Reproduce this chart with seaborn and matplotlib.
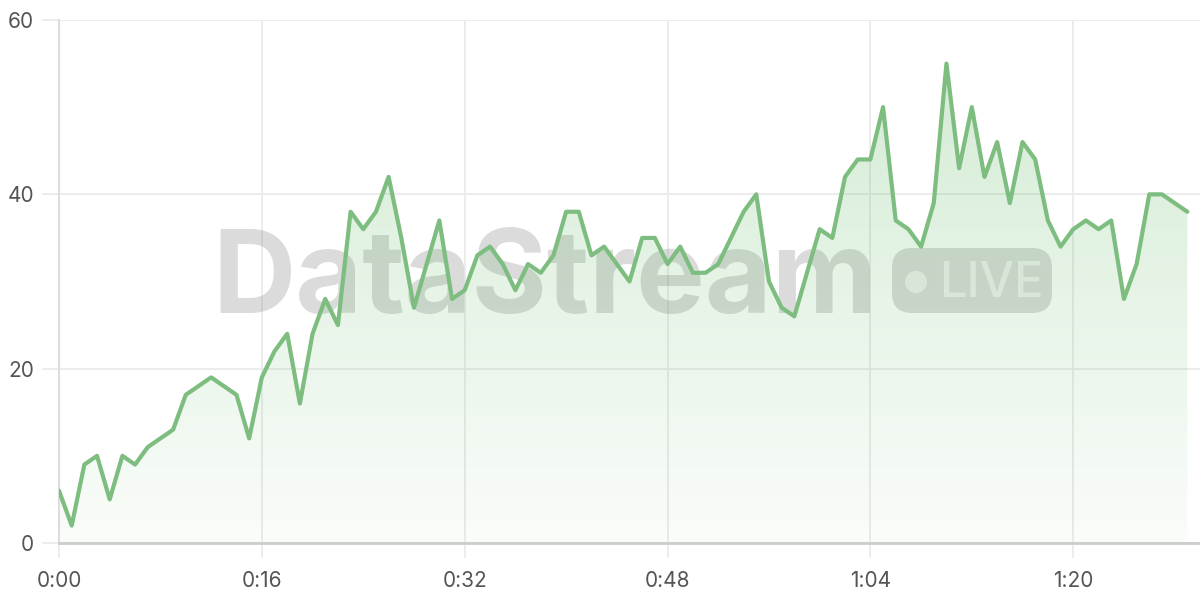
import numpy as np
import pandas as pd
import matplotlib
matplotlib.use("Agg")
import matplotlib.pyplot as plt
import seaborn as sns
from matplotlib.patches import FancyBboxPatch, Circle
from matplotlib.transforms import IdentityTransform
from matplotlib.colors import to_rgb

# values, one per second
seconds = list(range(90))
values = [6, 2, 9, 10, 5, 10, 9, 11, 12, 13,
          17, 18, 19, 18, 17, 12, 19, 22, 24, 16,
          24, 28, 25, 38, 36, 38, 42, 35, 27, 32,
          37, 28, 29, 33, 34, 32, 29, 32, 31, 33,
          38, 38, 33, 34, 32, 30, 35, 35, 32, 34,
          31, 31, 32, 35, 38, 40, 30, 27, 26, 31,
          36, 35, 42, 44, 44, 50, 37, 36, 34, 39,
          55, 43, 50, 42, 46, 39, 46, 44, 37, 34,
          36, 37, 36, 37, 28, 32, 40, 40, 39, 38]
x_ticks = [0, 16, 32, 48, 64, 80]
x_tick_labels = ["0:00", "0:16", "0:32", "0:48", "1:04", "1:20"]
y_ticks = [0, 20, 40, 60]

df = pd.DataFrame({"t": seconds, "v": values})

sns.set_theme(style="white")
plt.rcParams["font.family"] = ["Inter", "DejaVu Sans"]

line_color = "#7dbd7f"
fill_rgb = to_rgb("#4caf50")

fig = plt.figure(figsize=(12, 6), dpi=100)
ax = fig.add_axes([59 / 1200, 57 / 600, 1141 / 1200, 523 / 600])

# watermark, drawn behind the data
ax.text(212 / 1200, 287 / 600, "DataStream", transform=fig.transFigure,
        fontsize=83, fontweight="bold", color="#888888", alpha=0.3,
        ha="left", va="baseline", zorder=0.6)
box = FancyBboxPatch((892, 287), 160, 65, boxstyle="round,pad=0,rounding_size=20",
                     transform=IdentityTransform(), facecolor="#888888",
                     edgecolor="none", alpha=0.3, zorder=0.6)
ax.add_artist(box)
ax.add_artist(Circle((916, 318), 11, transform=IdentityTransform(),
                     facecolor="white", edgecolor="none", alpha=0.6, zorder=0.7))
ax.text(939 / 1200, 303 / 600, "LIVE", transform=fig.transFigure,
        fontsize=35, fontweight="medium", color="white", alpha=0.6,
        ha="left", va="baseline", zorder=0.7)

# gradient fill under the line
poly = ax.fill_between(df["t"], df["v"], 0, color="none")
grad = np.zeros((256, 1, 4))
grad[:, 0, 0:3] = fill_rgb
grad[:, 0, 3] = np.linspace(0.03, 0.26, 256)
im = ax.imshow(grad, extent=[0, 89, 0, 60], aspect="auto", origin="lower", zorder=1)
im.set_clip_path(poly.get_paths()[0], transform=ax.transData)

sns.lineplot(data=df, x="t", y="v", ax=ax, color=line_color, linewidth=3, zorder=3)

ax.set_xlim(0, 90)
ax.set_ylim(0, 60)
ax.set_xticks(x_ticks)
ax.set_xticklabels(x_tick_labels)
ax.set_yticks(y_ticks)
ax.set_xlabel("")
ax.set_ylabel("")

ax.grid(True, color="#ebebeb", linewidth=1.3, zorder=0.5)
ax.set_axisbelow(True)
for s in ["top", "right"]:
    ax.spines[s].set_visible(False)
ax.spines["left"].set_color("#dddddd")
ax.spines["left"].set_linewidth(1.5)
ax.spines["bottom"].set_color("#cccccc")
ax.spines["bottom"].set_linewidth(2)

ax.tick_params(axis="x", length=11, width=1.3, color="#ebebeb", pad=9,
               labelsize=15, labelcolor="#555555", bottom=True)
ax.tick_params(axis="y", length=12, width=1.3, color="#ebebeb", pad=6,
               labelsize=15, labelcolor="#555555", left=True)

fig.savefig("out.png", dpi=100)
